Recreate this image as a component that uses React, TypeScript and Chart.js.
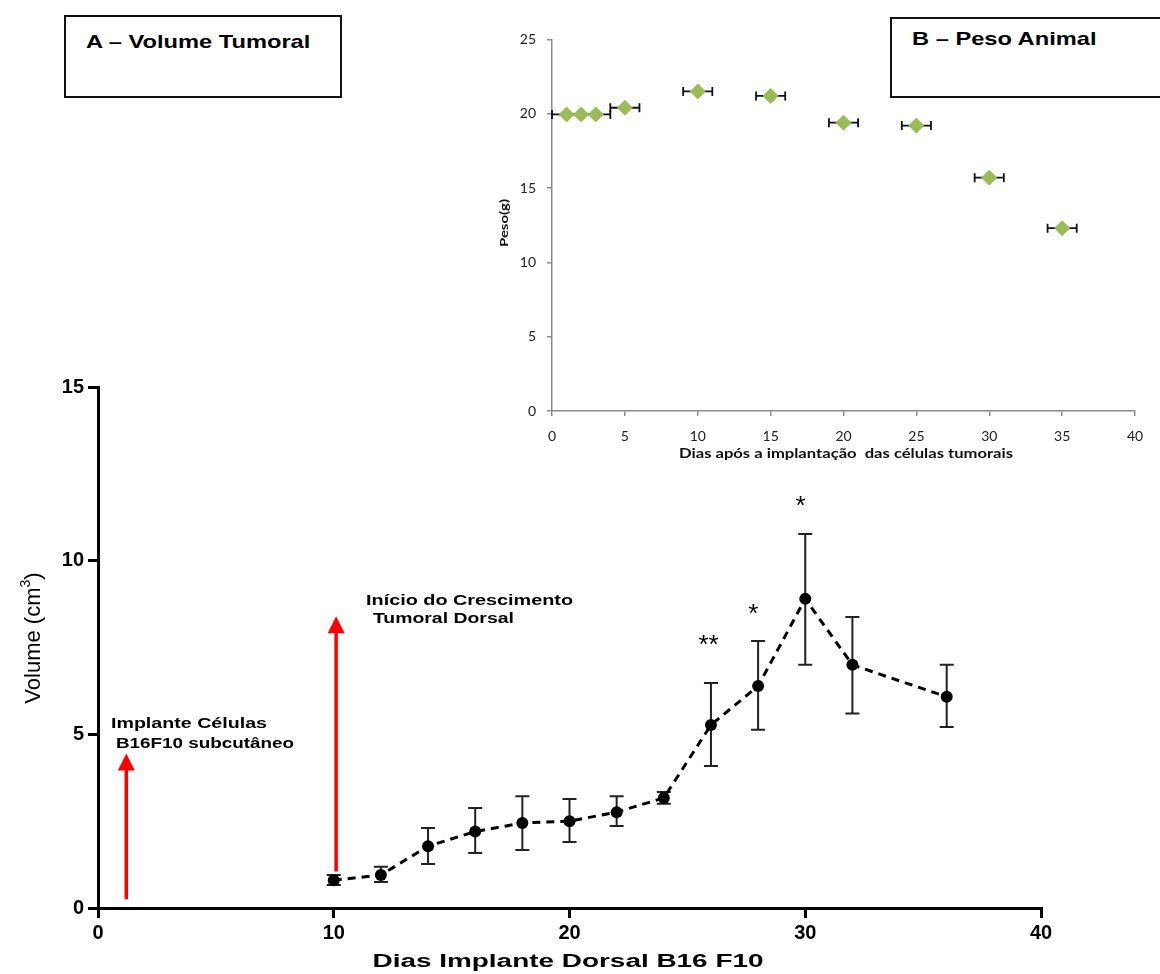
import React, { useEffect, useRef } from "react";
import { Chart, registerables } from "chart.js";

Chart.register(...registerables);

// ---------- Panel A: tumour volume ----------
const volumeDays = [10, 12, 14, 16, 18, 20, 22, 24, 26, 28, 30, 32, 36];
const volumeMean = [0.8, 0.95, 1.78, 2.2, 2.45, 2.5, 2.76, 3.17, 5.27, 6.39, 8.9, 7.0, 6.08];
const volumeUpper = [0.95, 1.19, 2.3, 2.88, 3.22, 3.14, 3.22, 3.34, 6.48, 7.69, 10.77, 8.38, 7.0];
const volumeLower = [0.66, 0.75, 1.27, 1.58, 1.67, 1.9, 2.36, 3.0, 4.09, 5.13, 7.0, 5.6, 5.21];
const volumeXTicks = [0, 10, 20, 30, 40];
const volumeYTicks = [0, 5, 10, 15];

const starLabels = ["**", "*", "*"];
const starDays = [25.9, 27.8, 29.8];
const starValues = [7.75, 8.64, 11.75];

const arrowDays = [1.2, 10.1];
const arrowFrom = [0.25, 1.05];
const arrowTo = [4.45, 8.4];

const noteLines = ["Implante Células", "B16F10 subcutâneo", "Início do Crescimento", "Tumoral Dorsal"];

// ---------- Panel B: body weight ----------
const weightDays = [1, 2, 3, 5, 10, 15, 20, 25, 30, 35];
const weightMean = [19.95, 19.95, 19.95, 20.4, 21.5, 21.2, 19.4, 19.2, 15.7, 12.3];
const weightDayError = [1, 1, 1, 1, 1, 1, 1, 1, 1, 1];
const weightXTicks = [0, 5, 10, 15, 20, 25, 30, 35, 40];
const weightYTicks = [0, 5, 10, 15, 20, 25];

const ARIAL = "'Liberation Sans', Arial, sans-serif";
const CALIBRI = "Lato, 'Open Sans', sans-serif";

// layout of annotation text (data-space anchors + target widths in px)
const noteLayout = [
  { day: 0.55, value: 5.3, width: 156 },
  { day: 0.76, value: 4.72, width: 178 },
  { day: 11.37, value: 8.84, width: 207 },
  { day: 11.66, value: 8.32, width: 141 },
];

function fitText(
  ctx: CanvasRenderingContext2D,
  text: string,
  x: number,
  y: number,
  font: string,
  width: number,
  align: CanvasTextAlign
) {
  ctx.save();
  ctx.font = font;
  const w = ctx.measureText(text).width;
  const s = width / w;
  ctx.translate(x, y);
  ctx.scale(s, 1);
  ctx.textAlign = align;
  ctx.fillText(text, 0, 0);
  ctx.restore();
}

const volumePlugin = {
  id: "volumeExtras",
  beforeDatasetsDraw(chart: any) {
    const { ctx } = chart;
    const xs = chart.scales.x;
    const ys = chart.scales.y;
    ctx.save();
    ctx.strokeStyle = "#222";
    ctx.lineWidth = 2;
    volumeDays.forEach((d, i) => {
      const px = xs.getPixelForValue(d);
      const top = ys.getPixelForValue(volumeUpper[i]);
      const bot = ys.getPixelForValue(volumeLower[i]);
      ctx.beginPath();
      ctx.moveTo(px, top);
      ctx.lineTo(px, bot);
      ctx.moveTo(px - 7, top);
      ctx.lineTo(px + 7, top);
      ctx.moveTo(px - 7, bot);
      ctx.lineTo(px + 7, bot);
      ctx.stroke();
    });
    ctx.restore();
  },
  afterDatasetsDraw(chart: any) {
    const { ctx } = chart;
    const xs = chart.scales.x;
    const ys = chart.scales.y;
    ctx.save();
    // red arrows
    arrowDays.forEach((d, i) => {
      const px = xs.getPixelForValue(d);
      const y0 = ys.getPixelForValue(arrowFrom[i]);
      const y1 = ys.getPixelForValue(arrowTo[i]);
      ctx.strokeStyle = "#ff0000";
      ctx.fillStyle = "#ff0000";
      ctx.lineWidth = 3.5;
      ctx.beginPath();
      ctx.moveTo(px, y0);
      ctx.lineTo(px, y1 + 14);
      ctx.stroke();
      ctx.beginPath();
      ctx.moveTo(px, y1);
      ctx.lineTo(px - 8.5, y1 + 17);
      ctx.lineTo(px + 8.5, y1 + 17);
      ctx.closePath();
      ctx.fill();
    });
    // notes
    ctx.fillStyle = "#000";
    ctx.textBaseline = "middle";
    noteLines.forEach((t, i) => {
      const L = noteLayout[i];
      fitText(ctx, t, xs.getPixelForValue(L.day), ys.getPixelForValue(L.value), `bold 14px ${ARIAL}`, L.width, "left");
    });
    // stars
    ctx.textBaseline = "alphabetic";
    ctx.textAlign = "center";
    ctx.font = `26px ${ARIAL}`;
    starLabels.forEach((s, i) => {
      ctx.fillText(s, xs.getPixelForValue(starDays[i]), ys.getPixelForValue(starValues[i]) + 14);
    });
    ctx.restore();
  },
  afterDraw(chart: any) {
    const { ctx } = chart;
    ctx.save();
    ctx.fillStyle = "#000";
    // x title
    ctx.textBaseline = "middle";
    fitText(ctx, "Dias Implante Dorsal B16 F10", 568, 962, `bold 18px ${ARIAL}`, 391, "center");
    // y title with superscript
    ctx.translate(33, 638);
    ctx.rotate(-Math.PI / 2);
    ctx.textBaseline = "alphabetic";
    ctx.textAlign = "left";
    const mainFont = `22px ${ARIAL}`;
    const supFont = `14px ${ARIAL}`;
    ctx.font = mainFont;
    const a = "Volume (cm";
    const c = ")";
    const wa = ctx.measureText(a).width;
    const wc = ctx.measureText(c).width;
    ctx.font = supFont;
    const wb = ctx.measureText("3").width;
    const total = wa + wb + wc;
    let x = -total / 2;
    ctx.font = mainFont;
    ctx.fillText(a, x, 7);
    x += wa;
    ctx.font = supFont;
    ctx.fillText("3", x, -3);
    x += wb;
    ctx.font = mainFont;
    ctx.fillText(c, x, 7);
    ctx.restore();
  },
};

const weightPlugin = {
  id: "weightExtras",
  beforeDatasetsDraw(chart: any) {
    const { ctx } = chart;
    const xs = chart.scales.x;
    const ys = chart.scales.y;
    ctx.save();
    ctx.strokeStyle = "#111";
    ctx.lineWidth = 1.8;
    weightDays.forEach((d, i) => {
      const l = xs.getPixelForValue(d - weightDayError[i]);
      const r = xs.getPixelForValue(d + weightDayError[i]);
      const py = ys.getPixelForValue(weightMean[i]);
      ctx.beginPath();
      ctx.moveTo(l, py);
      ctx.lineTo(r, py);
      ctx.moveTo(l, py - 4.5);
      ctx.lineTo(l, py + 4.5);
      ctx.moveTo(r, py - 4.5);
      ctx.lineTo(r, py + 4.5);
      ctx.stroke();
    });
    ctx.restore();
  },
  afterDraw(chart: any) {
    const { ctx } = chart;
    ctx.save();
    ctx.fillStyle = "#111";
    ctx.textBaseline = "middle";
    fitText(ctx, "Dias após a implantação  das células tumorais", 356, 434, `bold 13px ${CALIBRI}`, 334, "center");
    ctx.translate(14, 203);
    ctx.rotate(-Math.PI / 2);
    fitText(ctx, "Peso(g)", 0, 0, `bold 12px ${CALIBRI}`, 48, "center");
    ctx.restore();
  },
};

export default function App() {
  const mainRef = useRef<HTMLCanvasElement>(null);
  const insetRef = useRef<HTMLCanvasElement>(null);

  useEffect(() => {
    const main = new Chart(mainRef.current as HTMLCanvasElement, {
      type: "line",
      data: {
        datasets: [
          {
            data: volumeDays.map((d, i) => ({ x: d, y: volumeMean[i] })),
            borderColor: "#000",
            borderWidth: 3,
            borderDash: [8, 6],
            pointRadius: 6,
            pointBackgroundColor: "#000",
            pointBorderColor: "#000",
            pointBorderWidth: 0,
            fill: false,
            tension: 0,
          },
        ],
      },
      options: {
        responsive: false,
        animation: false,
        events: [],
        layout: { padding: { top: 387, right: 119, left: 0, bottom: 0 } },
        plugins: { legend: { display: false }, tooltip: { enabled: false } },
        scales: {
          x: {
            type: "linear",
            min: 0,
            max: 40,
            afterBuildTicks: (s: any) => {
              s.ticks = volumeXTicks.map((v) => ({ value: v }));
            },
            afterFit: (s: any) => {
              s.height = 66;
            },
            ticks: { font: { family: ARIAL, size: 20, weight: "bold" }, color: "#000", padding: 3, maxRotation: 0 },
            grid: { drawOnChartArea: false, drawTicks: true, tickLength: 10, color: "#000", lineWidth: 3 },
            border: { color: "#000", width: 3 },
          },
          y: {
            type: "linear",
            min: 0,
            max: 15,
            afterBuildTicks: (s: any) => {
              s.ticks = volumeYTicks.map((v) => ({ value: v }));
            },
            afterFit: (s: any) => {
              s.width = 98;
            },
            ticks: { font: { family: ARIAL, size: 20, weight: "bold" }, color: "#000", padding: 4 },
            grid: { drawOnChartArea: false, drawTicks: true, tickLength: 10, color: "#000", lineWidth: 3 },
            border: { color: "#000", width: 3 },
          },
        },
      } as any,
      plugins: [volumePlugin],
    });

    const inset = new Chart(insetRef.current as HTMLCanvasElement, {
      type: "line",
      data: {
        datasets: [
          {
            data: weightDays.map((d, i) => ({ x: d, y: weightMean[i] })),
            showLine: false,
            pointStyle: "rectRot",
            pointRadius: 7.5,
            pointBackgroundColor: "#9bbb59",
            pointBorderColor: "#9bbb59",
            pointBorderWidth: 1,
          },
        ],
      },
      options: {
        responsive: false,
        animation: false,
        events: [],
        layout: { padding: { top: 14, right: 25, left: 0, bottom: 0 } },
        plugins: { legend: { display: false }, tooltip: { enabled: false } },
        scales: {
          x: {
            type: "linear",
            min: 0,
            max: 40,
            afterBuildTicks: (s: any) => {
              s.ticks = weightXTicks.map((v) => ({ value: v }));
            },
            afterFit: (s: any) => {
              s.height = 69;
            },
            ticks: { font: { family: CALIBRI, size: 14 }, color: "#222", padding: 12, maxRotation: 0 },
            grid: { drawOnChartArea: false, drawTicks: true, tickLength: 5, color: "#8a8a8a", lineWidth: 1.5 },
            border: { color: "#8a8a8a", width: 1.5 },
          },
          y: {
            type: "linear",
            min: 0,
            max: 25,
            afterBuildTicks: (s: any) => {
              s.ticks = weightYTicks.map((v) => ({ value: v }));
            },
            afterFit: (s: any) => {
              s.width = 62;
            },
            ticks: { font: { family: CALIBRI, size: 14 }, color: "#222", padding: 11 },
            grid: { drawOnChartArea: false, drawTicks: true, tickLength: 5, color: "#8a8a8a", lineWidth: 1.5 },
            border: { color: "#8a8a8a", width: 1.5 },
          },
        },
      } as any,
      plugins: [weightPlugin],
    });

    return () => {
      main.destroy();
      inset.destroy();
    };
  }, []);

  const boxText: React.CSSProperties = {
    position: "absolute",
    font: `bold 19px ${ARIAL}`,
    color: "#000",
    whiteSpace: "nowrap",
    transform: "scaleX(1.245)",
    transformOrigin: "left top",
  };

  return (
    <div style={{ position: "absolute", left: 0, top: 0, width: 1160, height: 974, background: "#fff", overflow: "hidden" }}>
      <canvas ref={mainRef} width={1160} height={974} style={{ position: "absolute", left: 0, top: 0 }} />
      <canvas ref={insetRef} width={670} height={460} style={{ position: "absolute", left: 490, top: 20 }} />
      <div
        style={{
          position: "absolute",
          left: 64,
          top: 15,
          width: 278,
          height: 83,
          border: "2px solid #111",
          boxSizing: "border-box",
          background: "#fff",
        }}
      >
        <span style={{ ...boxText, left: 20, top: 14 }}>A – Volume Tumoral</span>
      </div>
      <div
        style={{
          position: "absolute",
          left: 890,
          top: 17,
          width: 290,
          height: 81,
          border: "2px solid #111",
          boxSizing: "border-box",
          background: "#fff",
        }}
      >
        <span style={{ ...boxText, left: 20, top: 9 }}>B – Peso Animal</span>
      </div>
    </div>
  );
}
